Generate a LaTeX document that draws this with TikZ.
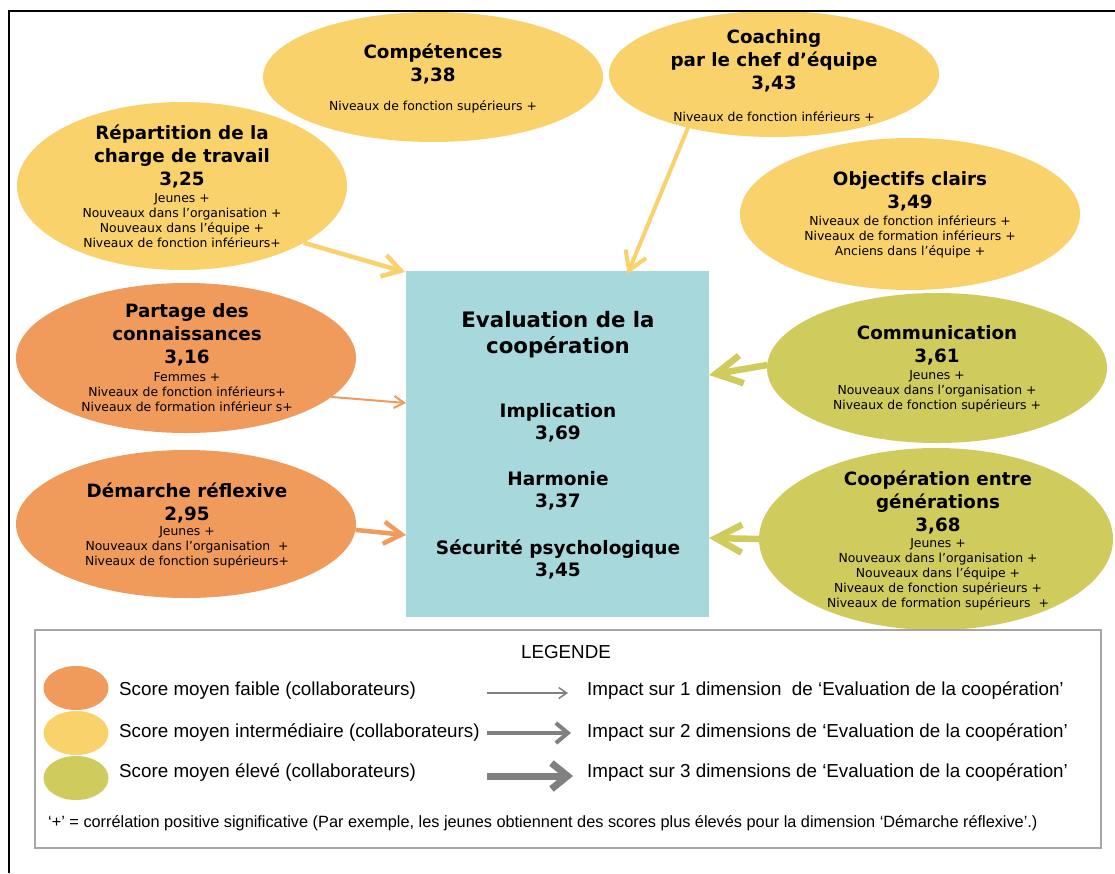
\documentclass[tikz,border=0pt]{standalone}
\usepackage{fontspec}
\setmainfont{DejaVu Sans}
\newfontfamily\legfont{Liberation Sans}
\usetikzlibrary{shapes.geometric,arrows.meta}
\definecolor{cyel}{HTML}{FAD26C}
\definecolor{cora}{HTML}{F09A5B}
\definecolor{cgrn}{HTML}{CFCB5C}
\definecolor{cblu}{HTML}{A6D8DC}
\definecolor{cgry}{HTML}{808080}
\definecolor{cbrd}{HTML}{A6A6A6}
\begin{document}
\begin{tikzpicture}[x=1pt,y=-1pt,
  bubble/.style={ellipse,inner sep=0pt,outer sep=0pt},
  ttl/.style={font=\fontsize{18.3}{23}\selectfont\bfseries,align=center,inner sep=0pt},
  det/.style={font=\fontsize{12.4}{15}\selectfont,align=center,inner sep=0pt},
  boxttl/.style={font=\fontsize{21.3}{26}\selectfont\bfseries,align=center,inner sep=0pt},
  boxitem/.style={font=\fontsize{18.5}{22}\selectfont\bfseries,align=center,inner sep=0pt},
  legtxt/.style={font=\legfont\fontsize{18.8}{22}\selectfont,anchor=west,inner sep=0pt},
  thinarr/.style={line width=2pt,-{Straight Barb[length=10pt,width=12pt]}},
  medarr/.style={line width=4.5pt,-{Straight Barb[length=18pt,width=22pt]}},
  thickarr/.style={line width=6.5pt,-{Straight Barb[length=26pt,width=28pt]}},
]
\useasboundingbox (0,0) rectangle (1115,873);
\fill[white] (0,0) rectangle (1115,873);

% central box
\node[fill=cblu,minimum width=303pt,minimum height=346pt,inner sep=0pt,outer sep=0pt] (box) at (557.5,444) {};
\node[boxttl] (boxt) at (558,335) {Evaluation de la\\coopération};
\node[boxitem] (imp) at (558,422.5) {Implication\\3,69};
\node[boxitem] (har) at (558,491) {Harmonie\\3,37};
\node[boxitem] (sec) at (558,559) {Sécurité psychologique\\3,45};

% bubbles
\node[bubble,fill=cyel,minimum width=340pt,minimum height=130pt] (comp) at (433,77) {};
\node[ttl] at (433,63.5) {Compétences\\3,38};
\node[det] at (433,107) {Niveaux de fonction supérieurs +};

\node[bubble,fill=cyel,minimum width=330pt,minimum height=126pt] (coach) at (774,74) {};
\node[ttl] at (774,60.5) {Coaching\\par le chef d’équipe\\3,43};
\node[det] at (774,117) {Niveaux de fonction inférieurs +};

\node[bubble,fill=cyel,minimum width=330pt,minimum height=168pt] (rep) at (182,186) {};
\node[ttl] at (182,156.5) {Répartition de la\\charge de travail\\3,25};
\node[det] at (182,220.5) {Jeunes +\\Nouveaux dans l’organisation +\\Nouveaux dans l’équipe +\\Niveaux de fonction inférieurs+};

\node[bubble,fill=cyel,minimum width=340pt,minimum height=152pt] (obj) at (910,214) {};
\node[ttl] at (910,191.5) {Objectifs clairs\\3,49};
\node[det] at (910,237) {Niveaux de fonction inférieurs +\\Niveaux de formation inférieurs +\\Anciens dans l’équipe +};

\node[bubble,fill=cora,minimum width=340pt,minimum height=150pt] (par) at (186,358) {};
\node[ttl] at (187,335) {Partage des\\connaissances\\3,16};
\node[det] at (187,392) {Femmes +\\Niveaux de fonction inférieurs+\\Niveaux de formation inférieur s+};

\node[bubble,fill=cora,minimum width=340pt,minimum height=148pt] (dem) at (186,524) {};
\node[ttl] at (187,502.5) {Démarche réflexive\\2,95};
\node[det] at (187,547.5) {Jeunes +\\Nouveaux dans l’organisation~~+\\Niveaux de fonction supérieurs+};

\node[bubble,fill=cgrn,minimum width=340pt,minimum height=150pt] (com) at (937,368) {};
\node[ttl] at (937,345.5) {Communication\\3,61};
\node[det] at (937,391) {Jeunes +\\Nouveaux dans l’organisation +\\Niveaux de fonction supérieurs +};

\node[bubble,fill=cgrn,minimum width=354pt,minimum height=182pt] (coo) at (936,539) {};
\node[ttl] at (938,502.5) {Coopération entre\\générations\\3,68};
\node[det] at (938,574) {Jeunes +\\Nouveaux dans l’organisation +\\Nouveaux dans l’équipe +\\Niveaux de fonction supérieurs +\\Niveaux de formation supérieurs~~+};

% connectors
\draw[medarr,cyel] (rep.-25.8) -- ([xshift=-1pt,yshift=-1pt]box.north west);
\draw[medarr,cyel,line width=4pt] (coach.212.4) -- ([xshift=70pt,yshift=-3pt]box.north);
\draw[thinarr,cora] (par.-15.4) -- ([yshift=41pt]box.west);
\draw[medarr,cora] (dem.-2.7) -- ([yshift=-91pt]box.west);
\draw[thickarr,cgrn] (com.179) -- ([yshift=69pt]box.east);
\draw[thickarr,cgrn] (coo.west) -- ([yshift=-94pt]box.east);

% legend
\draw[cbrd,line width=1.2pt] (35,630) rectangle (1101,848);
\node[font=\legfont\fontsize{18.8}{22}\selectfont,inner sep=0pt] (legt) at (566,652) {LEGENDE};
\node[bubble,fill=cora,minimum width=65pt,minimum height=44pt] (l1) at (76,688) {};
\node[bubble,fill=cyel,minimum width=65pt,minimum height=44pt] (l2) at (76,733) {};
\node[bubble,fill=cgrn,minimum width=65pt,minimum height=44pt] (l3) at (76,778) {};
\node[legtxt] (t1) at (119,691) {Score moyen faible (collaborateurs)};
\node[legtxt] (t2) at (119,733) {Score moyen intermédiaire (collaborateurs)};
\node[legtxt] (t3) at (119,773) {Score moyen élevé (collaborateurs)};
\coordinate (a1s) at (487,693); \coordinate (a1e) at (568,693);
\coordinate (a2s) at (487,733); \coordinate (a2e) at (571,733);
\coordinate (a3s) at (487,776); \coordinate (a3e) at (573,776);
\draw[cgry,line width=1.5pt,-{Straight Barb[length=8pt,width=11pt]}] (a1s) -- (a1e);
\draw[cgry,line width=4pt,-{Straight Barb[length=12pt,width=20pt]}] (a2s) -- (a2e);
\draw[cgry,line width=7pt,-{Straight Barb[length=16pt,width=26pt]}] (a3s) -- (a3e);
\node[legtxt] (i1) at (587,691) {Impact sur 1 dimension~~de ‘Evaluation de la coopération’};
\node[legtxt] (i2) at (587,733) {Impact sur 2 dimensions de ‘Evaluation de la coopération’};
\node[legtxt] (i3) at (587,773) {Impact sur 3 dimensions de ‘Evaluation de la coopération’};
\node[font=\legfont\fontsize{16.3}{19}\selectfont,anchor=west,inner sep=0pt] (foot) at (48,823) {‘+’ = corrélation positive significative (Par exemple, les jeunes obtiennent des scores plus élevés pour la dimension ‘Démarche réflexive’.)};

% frame
\draw[black,line width=2pt] (9,873) -- (9,11) -- (1115,11);
\end{tikzpicture}
\end{document}
